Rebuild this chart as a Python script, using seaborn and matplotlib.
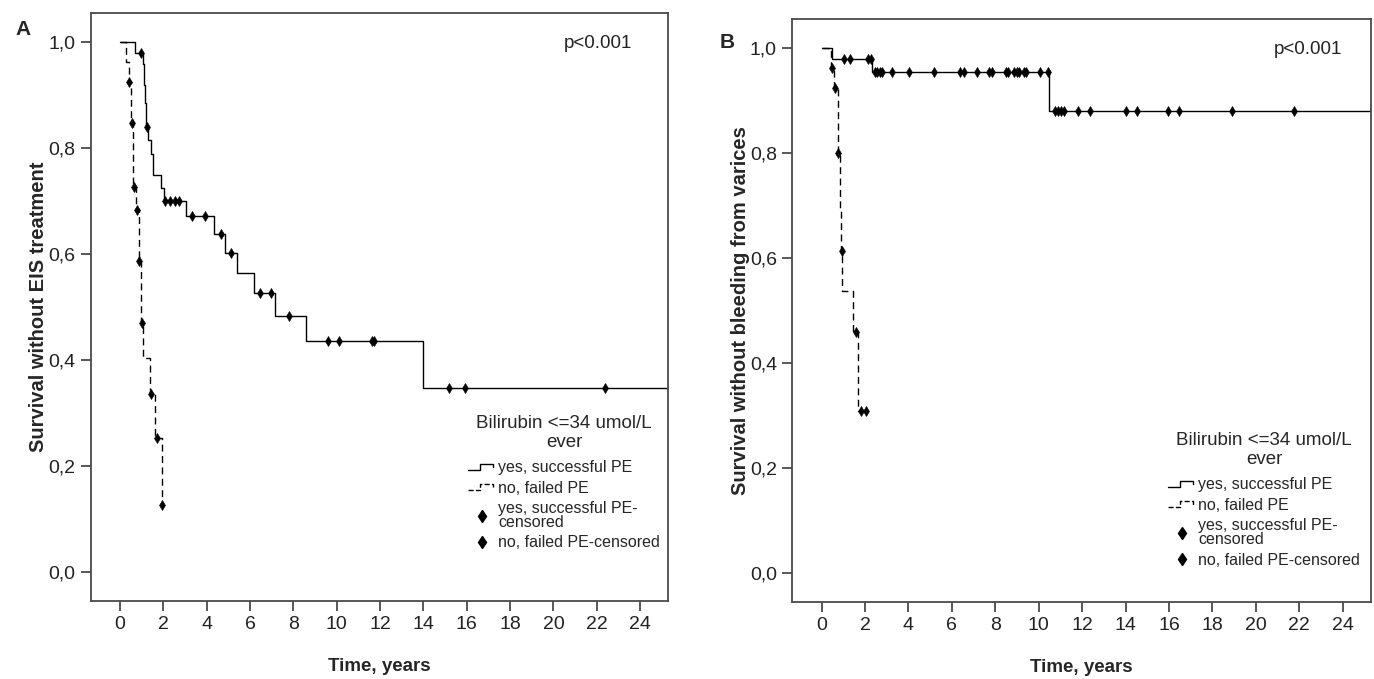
# Kaplan-Meier curves, panels A and B (SPSS style)

import numpy as np
import pandas as pd
import seaborn as sns
import matplotlib.pyplot as plt
from matplotlib.lines import Line2D
from matplotlib.legend_handler import HandlerBase

sns.set_theme(style='white')
plt.rcParams['font.family'] = ['Liberation Sans', 'DejaVu Sans']

# panel A: survival without EIS treatment
solidA_t = [0, 0.69, 1.05, 1.10, 1.16, 1.22, 1.30, 1.42, 1.53, 1.91, 2.02, 3.06, 4.36, 4.84, 5.38, 6.19, 7.15, 8.60, 14.0, 25.4]
solidA_s = [1.0, 0.98, 0.96, 0.92, 0.885, 0.84, 0.815, 0.79, 0.749, 0.725, 0.70, 0.672, 0.638, 0.602, 0.564, 0.527, 0.483, 0.435, 0.348, 0.348]
solidA_cens = [0.99, 1.27, 2.07, 2.30, 2.53, 2.72, 3.33, 3.93, 4.68, 5.12, 6.46, 6.99, 7.79, 9.6, 10.1, 11.62, 11.72, 15.2, 15.9, 22.4]
dashA_t = [0, 0.30, 0.40, 0.50, 0.62, 0.76, 0.86, 0.97, 1.06, 1.38, 1.64, 1.92, 1.96]
dashA_s = [1.0, 0.963, 0.926, 0.848, 0.727, 0.684, 0.587, 0.469, 0.404, 0.336, 0.252, 0.126, 0.126]
dashA_cens = [0.43, 0.54, 0.65, 0.80, 0.89, 1.0, 1.41, 1.73, 1.96]

# panel B: survival without bleeding from varices
solidB_t = [0, 0.49, 2.34, 10.49, 25.4]
solidB_s = [1.0, 0.978, 0.954, 0.879, 0.879]
solidB_cens = [1.03, 1.29, 2.14, 2.26, 2.46, 2.57, 2.68, 2.77, 3.26, 4.03, 5.18, 6.38, 6.54, 7.15, 7.72, 7.83,
               8.49, 8.60, 8.88, 8.99, 9.11, 9.31, 9.41, 10.07, 10.44, 10.75, 10.88, 11.03, 11.15, 11.83, 12.34,
               14.03, 14.52, 15.95, 16.44, 18.92, 21.77]
dashB_t = [0, 0.42, 0.55, 0.74, 0.85, 0.90, 0.93, 1.43, 1.66, 2.03]
dashB_s = [1.0, 0.962, 0.923, 0.80, 0.69, 0.613, 0.538, 0.46, 0.308, 0.308]
dashB_cens = [0.46, 0.60, 0.77, 0.92, 1.57, 1.80, 2.03]

ylabels = ['Survival without EIS treatment', 'Survival without bleeding from varices']
yticks = [0, 0.2, 0.4, 0.6, 0.8, 1.0]
xticks = list(range(0, 25, 2))

DASH = (0, (5, 3.2))
SPINE = '#4a4a4a'


class StepHandler(HandlerBase):
    def create_artists(self, legend, orig_handle, xdescent, ydescent, width, height, fontsize, trans):
        xs = np.array([0, 0.42, 0.42, 0.88, 0.88]) * width - xdescent
        ys = np.array([0.2, 0.2, 0.75, 0.75, 0.45]) * height - ydescent
        ln = Line2D(xs, ys, color='black', lw=1.0, linestyle=orig_handle.get_linestyle())
        ln.set_transform(trans)
        return [ln]


def at(times, surv, pts):
    idx = np.searchsorted(times, pts, side='right') - 1
    return [surv[i] for i in idx]


def panel(ax, st, ss, sc, dt, ds, dc, ylabel, ptxt):
    solid = pd.DataFrame({'t': st, 's': ss})
    dash = pd.DataFrame({'t': dt, 's': ds})
    sns.lineplot(data=solid, x='t', y='s', drawstyle='steps-post', color='black', lw=1.0,
                 estimator=None, sort=False, ax=ax)
    sns.lineplot(data=dash, x='t', y='s', drawstyle='steps-post', color='black', lw=1.0,
                 linestyle=DASH, estimator=None, sort=False, ax=ax)
    cens = pd.DataFrame({'t': sc + dc, 's': at(st, ss, sc) + at(dt, ds, dc)})
    sns.scatterplot(data=cens, x='t', y='s', marker='d', s=26, color='black', edgecolor='black',
                    linewidth=0.4, ax=ax, zorder=5)

    ax.set_xlim(-1.35, 25.3)
    ax.set_ylim(-0.055, 1.055)
    ax.set_xticks(xticks)
    ax.set_yticks(yticks)
    ax.set_yticklabels([('%.1f' % v).replace('.', ',') for v in yticks])
    ax.tick_params(axis='both', direction='out', length=7, width=1.3, color=SPINE,
                   labelsize=14, labelcolor='#222222', left=True, bottom=True, pad=4)
    for sp in ax.spines.values():
        sp.set_color(SPINE)
        sp.set_linewidth(1.3)
    ax.set_xlabel('Time, years', fontsize=13.5, fontweight='bold', labelpad=18)
    ax.set_ylabel(ylabel, fontsize=14.5, fontweight='bold', labelpad=0)
    ax.text(ptxt[0], ptxt[1], 'p<0.001', transform=ax.transAxes, fontsize=13.5, ha='right', va='center',
            color='#222222')

    handles = [Line2D([], [], color='black', linestyle='-'),
               Line2D([], [], color='black', linestyle=DASH),
               Line2D([], [], color='black', marker='d', linestyle='none', markersize=6),
               Line2D([], [], color='black', marker='d', linestyle='none', markersize=6)]
    labels = ['yes, successful PE', 'no, failed PE', 'yes, successful PE-\ncensored', 'no, failed PE-censored']
    return handles, labels


fig = plt.figure(figsize=(13.74, 6.79), dpi=100)
axA = fig.add_axes([0.066, 0.115, 0.4204, 0.8655])
axB = fig.add_axes([0.5766, 0.1134, 0.4212, 0.8586])

hA, lA = panel(axA, solidA_t, solidA_s, solidA_cens, dashA_t, dashA_s, dashA_cens, ylabels[0], (0.937, 0.949))
hB, lB = panel(axB, solidB_t, solidB_s, solidB_cens, dashB_t, dashB_s, dashB_cens, ylabels[1], (0.95, 0.947))

for ax, h, l, anchor in [(axA, hA, lA, (0.653, 0.316)), (axB, hB, lB, (0.649, 0.291))]:
    leg = ax.legend(h, l, title='Bilirubin <=34 umol/L\never', loc='upper left', bbox_to_anchor=anchor,
                    frameon=False, fontsize=11.5, title_fontsize=13.5, handlelength=1.8, handletextpad=0.1,
                    labelspacing=0.33, borderpad=0, borderaxespad=0,
                    handler_map={h[0]: StepHandler(), h[1]: StepHandler()})
    leg.get_title().set_multialignment('center')
    leg.get_title().set_linespacing(1.1)
    for t in leg.get_texts():
        t.set_linespacing(0.95)
    leg._legend_box.sep = 7

fig.text(0.011, 0.956, 'A', fontsize=15, fontweight='bold', va='center')
fig.text(0.524, 0.938, 'B', fontsize=15, fontweight='bold', va='center')

plt.savefig('out.png', dpi=100)
